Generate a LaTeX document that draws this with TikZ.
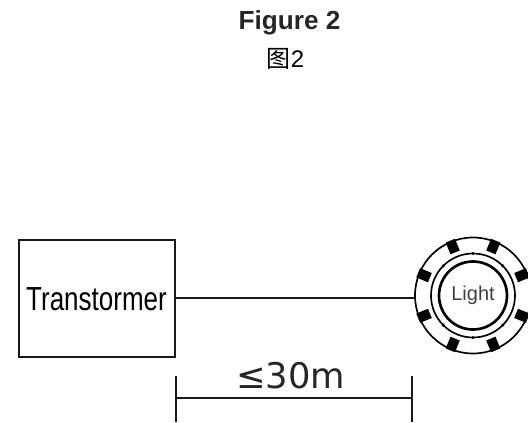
\documentclass[tikz,border=0pt]{standalone}
\usepackage{fontspec}
\usetikzlibrary{calc}
\setmainfont{Liberation Sans}
\newfontfamily\cjk{Noto Sans CJK SC}
\newfontfamily\dejavu{DejaVu Sans}
\tikzset{
  x=0.75pt,y=-0.75pt,
  wire/.style={draw=black!90,line width=1.05pt},
  ring/.style={draw=black,line width=1.25pt,circle,inner sep=0pt,minimum size=#1*0.75pt},
  lamp/.style={fill=black,draw=none,minimum width=7.5pt,minimum height=9.5pt,inner sep=0pt},
  dotmark/.style={fill=black,draw=none,circle,minimum size=2.6pt,inner sep=0pt}
}
\begin{document}
\begin{tikzpicture}
\useasboundingbox (0,0) rectangle (528,422);
\node[font=\bfseries\fontsize{19.6}{21}\selectfont,text=black!85] (title) at (289.5,23) {Figure 2};
\node[font=\fontsize{18}{20}\selectfont] (sub) at (285.5,59) {{\cjk 图}2};
\node[draw=black!90,line width=1.05pt,minimum width=117pt,minimum height=88pt,inner sep=0pt] (box) at (97,298.5) {};
\node[font=\fontsize{25}{27}\selectfont,xscale=0.78] (boxlabel) at (96.5,299.5) {Transtormer};
\coordinate (c) at (473,295.5);
\node[ring=116] (outer) at (c) {};
\node[ring=84] (mid) at (c) {};
\node[ring=68,line width=2pt] (inner) at (c) {};
\node[font=\fontsize{15}{16}\selectfont,text=black!75] (light) at (c) {Light};
\foreach \a in {22.5,67.5,112.5,157.5,202.5,247.5,292.5,337.5}{
  \node[lamp,rotate=-\a-90] at ($(c)+(\a:53)$) {};
}
\foreach \a in {45,90,135,225,270,315}{
  \node[dotmark] at ($(c)+(\a:42)$) {};
}
\coordinate (tap) at (415,298);
\draw[wire] (box.east |- tap) -- (tap);
\coordinate (da) at (176,398);
\coordinate (db) at (412,398);
\draw[wire] (176,376) coordinate (dat) -- (176,422) coordinate (dab);
\draw[wire] (412,376) coordinate (dbt) -- (412,422) coordinate (dbb);
\draw[wire] (da) -- (db);
\node[font=\dejavu\fontsize{26.5}{28}\selectfont,text=black!85] (dim) at (290.5,375.5) {≤30m};
\end{tikzpicture}
\end{document}
